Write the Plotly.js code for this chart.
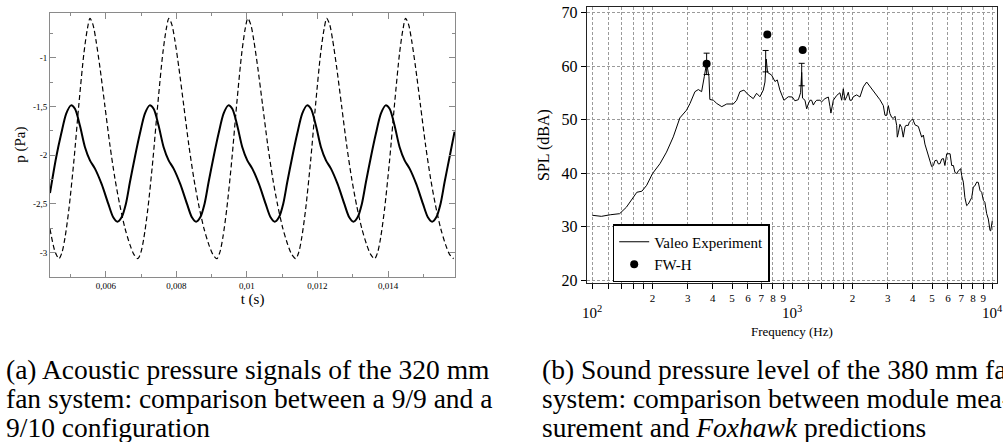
<!DOCTYPE html>
<html>
<head>
<meta charset="utf-8">
<script src="https://cdn.plot.ly/plotly-3.0.1.min.js"></script>
<style>html,body{margin:0;padding:0;background:#fff;}#chart{width:1003px;height:442px;}</style>
</head>
<body>
<div id="chart"></div>
<script>
// ---- (a) acoustic pressure signals: 9/9 configuration (solid) ----
const t99 = [0.004414,0.004591,0.004733,0.004874,0.005009,
0.005122,0.005264,0.005406,0.005547,0.005689,0.005879,0.006066,0.006207,0.006326,0.006445,0.006567,0.006680,0.006822,0.006964,0.007105,0.007240,
0.007353,0.007495,0.007637,0.007778,0.007920,0.008110,0.008297,0.008438,0.008557,0.008676,0.008798,0.008911,0.009053,0.009195,0.009336,0.009471,
0.009584,0.009726,0.009868,0.010009,0.010151,0.010341,0.010528,0.010669,0.010788,0.010907,0.011029,0.011142,0.011284,0.011426,0.011567,0.011702,
0.011815,0.011957,0.012099,0.012240,0.012382,0.012572,0.012759,0.012900,0.013019,0.013138,0.013260,0.013373,0.013515,0.013657,0.013798,0.013933,
0.014046,0.014188,0.014330,0.014471,0.014613,0.014803,0.014990,0.015131,0.015250,0.015369,0.015491,0.015604,0.015746,0.015888];
const p99 = [-2.39,-2.02,-1.78,-1.575,-1.49,
-1.525,-1.70,-1.92,-2.055,-2.14,-2.30,-2.50,-2.64,-2.685,-2.64,-2.50,-2.28,-2.02,-1.78,-1.575,-1.49,
-1.525,-1.70,-1.92,-2.055,-2.14,-2.30,-2.50,-2.64,-2.685,-2.64,-2.50,-2.28,-2.02,-1.78,-1.575,-1.49,
-1.525,-1.70,-1.92,-2.055,-2.14,-2.30,-2.50,-2.64,-2.685,-2.64,-2.50,-2.28,-2.02,-1.78,-1.575,-1.49,
-1.525,-1.70,-1.92,-2.055,-2.14,-2.30,-2.50,-2.64,-2.685,-2.64,-2.50,-2.28,-2.02,-1.78,-1.575,-1.49,
-1.525,-1.70,-1.92,-2.055,-2.14,-2.30,-2.50,-2.64,-2.685,-2.64,-2.50,-2.28,-2.02,-1.76];

// ---- (a) 9/10 configuration (dashed) ----
const t910 = [0.004414,0.004555,0.004669,0.004754,0.004839,0.004952,0.005094,0.005235,0.005377,0.005476,0.005547,
0.005632,0.005717,0.005830,0.005972,0.006114,0.006255,0.006397,0.006539,0.006680,0.006793,0.006907,0.006992,0.007077,0.007190,0.007332,0.007473,0.007615,0.007714,0.007785,
0.007870,0.007955,0.008068,0.008210,0.008352,0.008493,0.008635,0.008777,0.008918,0.009031,0.009145,0.009230,0.009315,0.009428,0.009570,0.009711,0.009853,0.009952,0.010023,
0.010108,0.010193,0.010306,0.010448,0.010590,0.010731,0.010873,0.011015,0.011156,0.011269,0.011383,0.011468,0.011553,0.011666,0.011808,0.011949,0.012091,0.012190,0.012261,
0.012346,0.012431,0.012544,0.012686,0.012828,0.012969,0.013111,0.013253,0.013394,0.013507,0.013621,0.013706,0.013791,0.013904,0.014046,0.014187,0.014329,0.014428,0.014499,
0.014584,0.014669,0.014782,0.014924,0.015066,0.015207,0.015349,0.015491,0.015632,0.015745,0.015859];
const p910 = [-2.76,-2.99,-3.065,-3.00,-2.85,-2.55,-2.05,-1.47,-0.95,-0.70,-0.596,
-0.66,-0.82,-1.10,-1.50,-1.90,-2.24,-2.52,-2.75,-2.92,-3.02,-3.065,-3.00,-2.85,-2.55,-2.05,-1.47,-0.95,-0.70,-0.596,
-0.66,-0.82,-1.10,-1.50,-1.90,-2.24,-2.52,-2.75,-2.92,-3.02,-3.065,-3.00,-2.85,-2.55,-2.05,-1.47,-0.95,-0.70,-0.596,
-0.66,-0.82,-1.10,-1.50,-1.90,-2.24,-2.52,-2.75,-2.92,-3.02,-3.065,-3.00,-2.85,-2.55,-2.05,-1.47,-0.95,-0.70,-0.596,
-0.66,-0.82,-1.10,-1.50,-1.90,-2.24,-2.52,-2.75,-2.92,-3.02,-3.065,-3.00,-2.85,-2.55,-2.05,-1.47,-0.95,-0.70,-0.596,
-0.66,-0.82,-1.10,-1.50,-1.90,-2.24,-2.52,-2.75,-2.92,-3.02,-3.065];

const tTickVals = [0.006,0.008,0.01,0.012,0.014];
const tTickText = ['0,006','0,008','0,01','0,012','0,014'];
const tMinor = [0.005,0.007,0.009,0.011,0.013,0.015];
const pTickVals = [-3,-2.5,-2,-1.5,-1];
const pTickText = ['-3','-2,5','-2','-1,5','-1'];
const pMinor = [-3.25,-2.75,-2.25,-1.75,-1.25,-0.75];

// ---- (b) Valeo experiment SPL spectrum ----
const freq = [100,111,123,137,148,160,167,177,187,200,218,235,254,274,296,308,326,339,352,363,373,383,387,403,419,444,470,507,527,547,573,603,638,663,689,716,730,741,752,788,819,841,867,908,955,1000,1030,1072,1100,1114,1125,1157,1180,1202,1225,1249,1274,1298,1324,1374,1402,1456,1514,1543,1560,1604,1667,1730,1766,1799,1834,1870,1905,1941,1980,2018,2057,2099,2178,2265,2354,2443,2541,2641,2742,2851,2906,2962,3020,3078,3140,3199,3262,3325,3350,3391,3452,3520,3587,3659,3698,3803,3844,3952,3998,4107,4268,4436,4522,4604,4699,4786,4884,4975,5075,5164,5274,5370,5481,5585,5695,5794,5918,6026,6151,6266,6392,6502,6642,6761,6952,7031,7164,7295,7444,7586,7736,7888,8039,8185,8354,8511,8681,8851,9021,9183,9374,9550,9742,9817,10000];
const splExp = [32.1,31.9,32.2,32.4,33.6,35.5,36.4,36.6,37.7,39.9,41.75,43.9,46.75,50.3,51.75,53,55.2,55.6,55.2,58,60.6,58,53.75,53.6,53,52.4,52.9,52.9,53.6,55.2,55.5,54.6,53.9,54.9,54.25,55.5,57,61.3,58.8,58.3,57.1,57.4,55.5,53.6,54.25,54.2,53.5,53.7,55,58.8,54,53.6,52,52.9,53.6,53.6,52.7,53.25,53.6,53.6,53.3,53.9,54.2,52.4,51.2,53.6,54.5,55,53.6,55.75,53.6,54.25,55.1,53.6,53.6,54.25,54.5,54.6,54.2,56.1,57,56.2,55.4,54.7,53.7,52.6,50.8,50.75,52.6,51.1,50.4,50.2,50.6,48.9,46.7,47.5,49.1,48.5,46.7,48.6,48.9,48.9,49.5,49.9,50.1,49,48.7,46.7,47.1,45.4,44.25,42.9,42.1,41.2,41.4,42.3,42.4,41.7,41.75,42.6,42.7,41.4,43.6,43.6,43.6,41.4,41.4,40.1,39.9,40.4,40.8,39.5,38.3,35.4,33.9,34.2,34.9,35.4,37.4,37.6,38.3,38.25,36.75,36.4,34.9,34.5,32.4,31.4,29.25,29.2,31.1];

// experimental tonal peaks with their uncertainty bars
const peakFreq = [373,736,1114];
const peakSpl = [60.4,60.9,58.4];
const peakErr = [2,2,2.1];

// FW-H predictions
const fwhFreq = [373,750,1127];
const fwhSpl = [60.4,65.9,63.0];

// labelled ticks (digits 2..9) and unlabelled ticks of the log axis
const fTickVals = [200,300,400,500,600,700,800,900,2000,3000,4000,5000,6000,7000,8000,9000];
const fTickText = ['2','3','4','5','6','7','8','9','2','3','4','5','6','7','8','9'];
const fMinorVals = [100,120,140,160,180,1000,1200,1400,1600,1800,10000];
const splTickVals = [20,30,40,50,60,70];
const decadeLabels = ['10<sup>2</sup>','10<sup>3</sup>','10<sup>4</sup>'];
const decadeExp = [2,3,4];

const captionA = ['(a) Acoustic pressure signals of the 320 mm','fan system: comparison between a 9/9 and a','9/10 configuration'];
const captionB = ['(b) Sound pressure level of the 380 mm fan','system: comparison between module mea-','surement and <i>Foxhawk</i> predictions'];

const SERIF = 'Liberation Serif, Times New Roman, serif';
const W = 1003, H = 442;
const px = v => v / W;
const py = v => 1 - v / H;

const traces = [
  {x: t99, y: p99, xaxis: 'x', yaxis: 'y', mode: 'lines', showlegend: false,
   line: {color: '#000', width: 2, shape: 'spline', smoothing: 0.8}, name: '9/9'},
  {x: t910, y: p910, xaxis: 'x', yaxis: 'y', mode: 'lines', showlegend: false,
   line: {color: '#000', width: 1.2, dash: '5px,3px', shape: 'spline', smoothing: 0.8}, name: '9/10'},
  {x: freq, y: splExp, xaxis: 'x2', yaxis: 'y2', mode: 'lines', name: 'Valeo Experiment',
   line: {color: '#000', width: 1}},
  {x: peakFreq, y: peakSpl, xaxis: 'x2', yaxis: 'y2', mode: 'markers', showlegend: false,
   marker: {size: 1, color: 'rgba(0,0,0,0)'},
   error_y: {type: 'data', array: peakErr, visible: true, color: '#000', thickness: 1, width: 3}},
  {x: fwhFreq, y: fwhSpl, xaxis: 'x2', yaxis: 'y2', mode: 'markers', name: 'FW-H',
   marker: {size: 8, color: '#000'}}
];

const annotations = [];
decadeExp.forEach((e, i) => annotations.push({
  xref: 'x2', yref: 'paper', x: e, y: py(302), text: decadeLabels[i], showarrow: false,
  xanchor: 'center', yanchor: 'top', borderpad: 0, font: {family: SERIF, size: 15, color: '#000'}
}));
const capFont = {family: SERIF, size: 27.5, color: '#000'};
captionA.forEach((s, i) => annotations.push({
  xref: 'paper', yref: 'paper', x: px(4), y: py(369 + 29 * i), text: s, showarrow: false,
  xanchor: 'left', yanchor: 'middle', font: capFont
}));
captionB.forEach((s, i) => annotations.push({
  xref: 'paper', yref: 'paper', x: px(540), y: py(369 + 29 * i), text: s, showarrow: false,
  xanchor: 'left', yanchor: 'middle', font: capFont
}));

const GRAY = '#8a8a8a';
const GRID = {showgrid: true, gridcolor: '#9a9a9a', gridwidth: 1, griddash: '3px,2px'};
const layout = {
  width: W, height: H, autosize: false,
  margin: {l: 0, r: 0, t: 0, b: 0, pad: 0},
  paper_bgcolor: '#fff', plot_bgcolor: '#fff',
  font: {family: SERIF, color: '#000'},
  showlegend: true,
  xaxis: {
    domain: [px(50), px(455)], range: [0.004414, 0.0159], anchor: 'y',
    tickmode: 'array', tickvals: tTickVals, ticktext: tTickText,
    ticks: 'inside', ticklen: 6, tickcolor: GRAY, tickwidth: 1,
    showline: true, linecolor: GRAY, linewidth: 1, mirror: 'ticks',
    showgrid: false, zeroline: false,
    tickfont: {family: SERIF, size: 9, color: '#000'},
    minor: {tickmode: 'array', tickvals: tMinor, ticks: 'inside', ticklen: 3, tickcolor: GRAY, showgrid: false},
    title: {text: 't (s)', font: {family: SERIF, size: 15}, standoff: 2}
  },
  yaxis: {
    domain: [py(276.7), py(12.7)], range: [-3.25, -0.538], anchor: 'x',
    tickmode: 'array', tickvals: pTickVals, ticktext: pTickText,
    ticks: 'inside', ticklen: 6, tickcolor: GRAY, tickwidth: 1,
    showline: true, linecolor: GRAY, linewidth: 1, mirror: 'ticks',
    showgrid: false, zeroline: false,
    tickfont: {family: SERIF, size: 9, color: '#000'},
    minor: {tickmode: 'array', tickvals: pMinor, ticks: 'inside', ticklen: 3, tickcolor: GRAY, showgrid: false},
    title: {text: 'p (Pa)', font: {family: SERIF, size: 15}, standoff: 3}
  },
  xaxis2: Object.assign({
    domain: [px(587.3), px(996.5)], type: 'log', range: [1.975, 4.021], anchor: 'y2',
    tickmode: 'array', tickvals: fTickVals, ticktext: fTickText,
    ticks: 'outside', ticklen: 5, tickcolor: '#000', tickwidth: 1,
    showline: true, linecolor: '#222', linewidth: 1.5, mirror: true, zeroline: false,
    tickfont: {family: SERIF, size: 11, color: '#000'},
    minor: Object.assign({tickmode: 'array', tickvals: fMinorVals, ticks: 'outside', ticklen: 5, tickcolor: '#000', tickwidth: 1}, GRID),
    title: {text: 'Frequency (Hz)', font: {family: SERIF, size: 13}, standoff: 23}
  }, GRID),
  yaxis2: Object.assign({
    domain: [py(282.7), py(7.3)], range: [19.5, 70.97], anchor: 'x2',
    tickmode: 'array', tickvals: splTickVals,
    ticks: 'outside', ticklen: 5, tickcolor: '#000', tickwidth: 1,
    showline: true, linecolor: '#222', linewidth: 1.5, mirror: true, zeroline: false,
    tickfont: {family: SERIF, size: 16, color: '#000'},
    title: {text: 'SPL (dBA)', font: {family: SERIF, size: 16}, standoff: 8}
  }, GRID),
  legend: {
    x: px(612.7), y: py(224), xanchor: 'left', yanchor: 'top',
    bgcolor: '#fff', bordercolor: '#000', borderwidth: 1.5,
    font: {family: SERIF, size: 15, color: '#000'},
    itemwidth: 30, tracegroupgap: 0
  },
  annotations: annotations
};

Plotly.newPlot('chart', traces, layout, {staticPlot: true, displayModeBar: false});
</script>
</body>
</html>
